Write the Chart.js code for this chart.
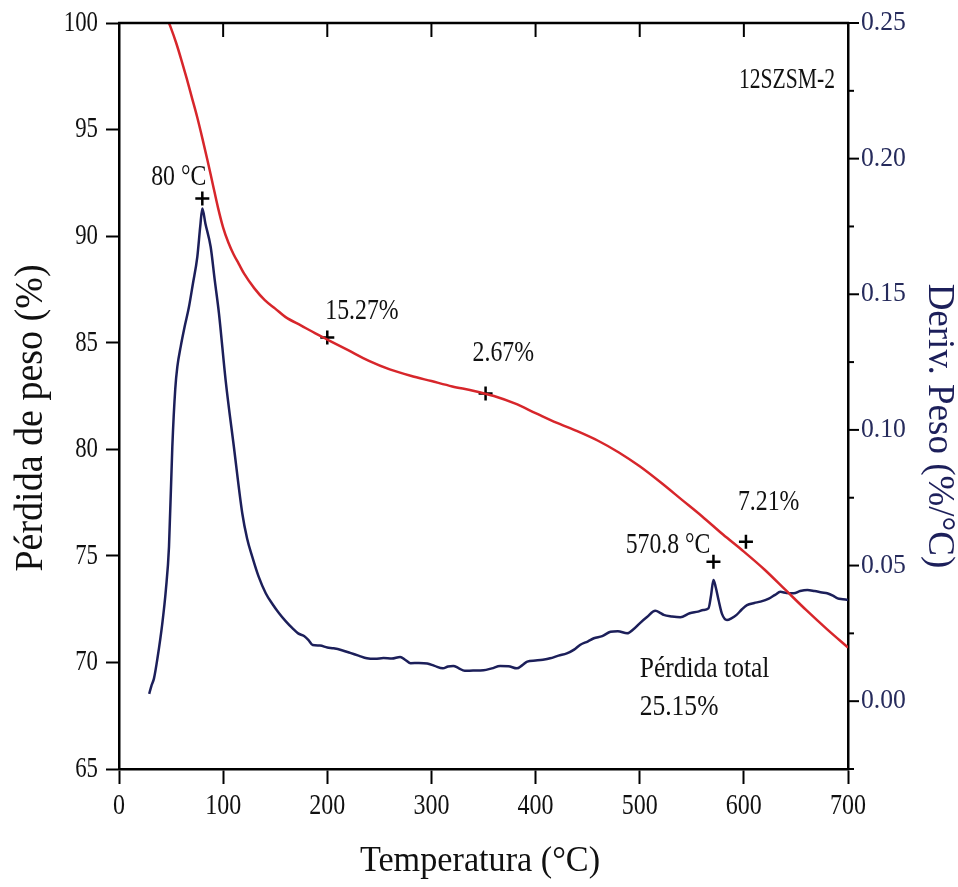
<!DOCTYPE html>
<html>
<head>
<meta charset="utf-8">
<script src="https://cdn.jsdelivr.net/npm/chart.js@4.4.1/dist/chart.umd.min.js"></script>
<style>
  html, body { margin: 0; padding: 0; background: #fff; }
  #wrap { width: 958px; height: 887px; }
</style>
</head>
<body>
<div id="wrap"><canvas id="c" width="958" height="887"></canvas></div>
<script>
// Thermogravimetric curve: temperature (°C) and residual mass (%)
const tgTemp = [45, 50, 55, 60, 65, 70, 75, 80, 85, 90, 95, 100, 105, 110, 115, 120, 130, 140, 150, 160, 175, 190, 200, 220, 240, 260, 280, 300, 320, 340, 360, 380, 400, 420, 440, 460, 480, 500, 520, 540, 560, 580, 600, 620, 640, 660, 680, 700];
const tgMass = [100.35, 99.75, 99.05, 98.25, 97.4, 96.5, 95.6, 94.6, 93.55, 92.45, 91.35, 90.4, 89.7, 89.15, 88.7, 88.25, 87.55, 87.0, 86.6, 86.2, 85.8, 85.4, 85.15, 84.65, 84.15, 83.75, 83.45, 83.2, 82.95, 82.75, 82.5, 82.15, 81.7, 81.25, 80.85, 80.4, 79.85, 79.2, 78.45, 77.65, 76.85, 76.0, 75.2, 74.35, 73.4, 72.45, 71.55, 70.7];

// Derivative curve: temperature (°C) and deriv. weight (%/°C)
const dtgTemp = [29, 31, 33.6, 37, 41.6, 45, 48, 51.2, 54, 56, 59.2, 63, 67.2, 71, 75.2, 78, 80, 83, 88, 92, 96, 102.4, 110.3, 118.4, 123, 128, 134, 140.9, 147, 153.7, 160, 166.5, 172, 177.7, 182, 186, 193, 200, 206, 214, 222, 230, 238, 246, 254, 262, 270, 275, 280, 288, 296, 303, 311, 316, 321, 326, 332, 340, 350, 358, 366, 374, 382, 387, 392, 400, 407, 414, 422, 430, 437, 443, 450, 456, 464, 472, 479, 488, 494, 500, 507, 515, 520, 523, 531, 539, 548, 556, 561, 566, 568.5, 570.8, 573, 575.7, 579, 583.8, 588, 593, 598, 603, 610, 616, 624, 630, 635, 641, 648, 654, 661, 668, 675, 680, 686, 690, 695, 700];
const dtgDeriv = [0.0027, 0.0055, 0.0084, 0.016, 0.0287, 0.041, 0.0569, 0.0938, 0.115, 0.1232, 0.1306, 0.138, 0.1454, 0.154, 0.1638, 0.175, 0.1816, 0.176, 0.1675, 0.155, 0.1429, 0.1183, 0.0938, 0.0692, 0.06, 0.0532, 0.046, 0.0398, 0.036, 0.0324, 0.0295, 0.0269, 0.025, 0.024, 0.0225, 0.0207, 0.0205, 0.0198, 0.0195, 0.0188, 0.0178, 0.0168, 0.0158, 0.0156, 0.0159, 0.0157, 0.0163, 0.0152, 0.014, 0.0141, 0.0139, 0.013, 0.0121, 0.0128, 0.013, 0.0122, 0.0112, 0.0113, 0.0114, 0.0121, 0.013, 0.0129, 0.0121, 0.0132, 0.0146, 0.015, 0.0153, 0.0158, 0.0168, 0.0176, 0.019, 0.0208, 0.022, 0.0232, 0.024, 0.0256, 0.0258, 0.025, 0.0265, 0.0287, 0.031, 0.0333, 0.0325, 0.0318, 0.0312, 0.0309, 0.0324, 0.033, 0.0336, 0.0342, 0.039, 0.0447, 0.042, 0.0373, 0.0322, 0.0299, 0.0305, 0.0318, 0.0338, 0.0354, 0.0362, 0.0367, 0.0378, 0.0392, 0.0403, 0.0399, 0.0398, 0.0406, 0.041, 0.0406, 0.0401, 0.0398, 0.0388, 0.0379, 0.0376, 0.0373];

// Mass-loss step markers on the TG curve
const stepTemp = [200, 352, 602];
const stepMass = [85.24, 82.62, 75.66];
const stepLabels = ['15.27%', '2.67%', '7.21%'];

// Peak markers on the derivative curve
const peakTemp = [80, 570.8];
const peakDeriv = [0.1853, 0.0514];
const peakLabels = ['80 °C', '570.8 °C'];

// Axis ticks
const xTicks = [0, 100, 200, 300, 400, 500, 600, 700];
const massTicks = [65, 70, 75, 80, 85, 90, 95, 100];
const derivTicks = [0.00, 0.05, 0.10, 0.15, 0.20, 0.25];
const derivMinorTicks = [-0.025, 0.025, 0.075, 0.125, 0.175, 0.225];

const sampleName = '12SZSM-2';
const totalLoss = ['Pérdida total', '25.15%'];
const totalLossPos = { t: 500, m: [69.65, 67.9] };

const SERIF = '"Liberation Serif", "Times New Roman", serif';
const NAVY = '#1c1f5a';
const RED = '#d7262b';

function text(ctx, str, x, y, size, opts = {}) {
  ctx.save();
  ctx.translate(x, y);
  if (opts.rot) ctx.rotate(opts.rot);
  ctx.scale(opts.sx || 1, 1);
  ctx.font = size + 'px ' + SERIF;
  ctx.fillStyle = opts.color || '#111';
  ctx.textAlign = opts.align || 'center';
  ctx.textBaseline = 'middle';
  ctx.fillText(str, 0, 0);
  ctx.restore();
}

const decorations = {
  id: 'decorations',
  afterDraw(chart) {
    const { ctx, chartArea: a, scales } = chart;
    const xs = scales.x, yl = scales.yL, yr = scales.yR;

    ctx.save();
    ctx.strokeStyle = '#000';
    ctx.lineCap = 'butt';
    // top frame line with inward ticks
    ctx.lineWidth = 2.5;
    ctx.beginPath();
    ctx.moveTo(a.left - 1, a.top);
    ctx.lineTo(a.right + 1, a.top);
    ctx.stroke();
    ctx.lineWidth = 2;
    xTicks.forEach(v => {
      const px = xs.getPixelForValue(v);
      ctx.beginPath();
      ctx.moveTo(px, a.top);
      ctx.lineTo(px, a.top + 14);
      ctx.stroke();
    });
    // right axis ticks, major and minor
    derivTicks.forEach(v => {
      const py = yr.getPixelForValue(v);
      ctx.beginPath();
      ctx.moveTo(a.right, py);
      ctx.lineTo(a.right + 11, py);
      ctx.stroke();
    });
    derivMinorTicks.forEach(v => {
      const py = yr.getPixelForValue(v);
      ctx.beginPath();
      ctx.moveTo(a.right, py);
      ctx.lineTo(a.right + 6, py);
      ctx.stroke();
    });
    ctx.restore();

    // tick labels
    xTicks.forEach(v => text(ctx, String(v), xs.getPixelForValue(v), 806, 30, { sx: 0.8 }));
    massTicks.forEach(v => text(ctx, String(v), 98, yl.getPixelForValue(v), 30, { sx: 0.76, align: 'right' }));
    derivTicks.forEach(v => text(ctx, v.toFixed(2), 861, yr.getPixelForValue(v), 27, { sx: 0.95, align: 'left', color: '#262b5c' }));

    // axis titles
    text(ctx, 'Temperatura (°C)', 480, 862, 36, { sx: 0.95 });
    text(ctx, 'Pérdida de peso (%)', 31, 418, 40, { sx: 0.95, rot: -Math.PI / 2 });
    text(ctx, 'Deriv. Peso (%/°C)', 939, 426, 37, { sx: 1, rot: Math.PI / 2, color: NAVY });

    // sample name
    text(ctx, sampleName, 787, 80, 30, { sx: 0.72 });

    // step labels above their markers
    const stepOff = [[-2, -26, 'left'], [-13, -40, 'left'], [-8, -39, 'left']];
    stepTemp.forEach((t, i) => {
      const px = xs.getPixelForValue(t), py = yl.getPixelForValue(stepMass[i]);
      const o = stepOff[i];
      text(ctx, stepLabels[i], px + o[0], py + o[1], 29, { sx: 0.82, align: o[2] });
    });
    // peak temperature labels
    const peakOff = [[4, -21, 'right'], [-3, -16, 'right']];
    peakTemp.forEach((t, i) => {
      const px = xs.getPixelForValue(t), py = yr.getPixelForValue(peakDeriv[i]);
      const o = peakOff[i];
      text(ctx, peakLabels[i], px + o[0], py + o[1], 29, { sx: 0.82, align: o[2] });
    });

    // total loss note
    const nx = xs.getPixelForValue(totalLossPos.t);
    totalLoss.forEach((s, i) => text(ctx, s, nx, yl.getPixelForValue(totalLossPos.m[i]), 29, { sx: 0.88, align: 'left' }));
  }
};

const axisGrid = { display: true, drawOnChartArea: false, drawTicks: true, tickWidth: 2, tickColor: '#000' };

new Chart(document.getElementById('c'), {
  type: 'line',
  data: {
    datasets: [
      {
        label: 'TG',
        data: tgTemp.map((t, i) => ({ x: t, y: tgMass[i] })),
        yAxisID: 'yL',
        borderColor: RED,
        borderWidth: 2.5,
        pointRadius: 0,
        cubicInterpolationMode: 'monotone',
        fill: false
      },
      {
        label: 'DTG',
        data: dtgTemp.map((t, i) => ({ x: t, y: dtgDeriv[i] })),
        yAxisID: 'yR',
        borderColor: NAVY,
        borderWidth: 2.5,
        pointRadius: 0,
        cubicInterpolationMode: 'monotone',
        fill: false
      },
      {
        label: 'steps',
        data: stepTemp.map((t, i) => ({ x: t, y: stepMass[i] })),
        yAxisID: 'yL',
        showLine: false,
        pointStyle: 'cross',
        pointRadius: 7,
        pointBorderWidth: 2.5,
        pointBorderColor: '#000',
        borderColor: '#000'
      },
      {
        label: 'peaks',
        data: peakTemp.map((t, i) => ({ x: t, y: peakDeriv[i] })),
        yAxisID: 'yR',
        showLine: false,
        pointStyle: 'cross',
        pointRadius: 7,
        pointBorderWidth: 2.5,
        pointBorderColor: '#000',
        borderColor: '#000'
      }
    ]
  },
  options: {
    responsive: false,
    animation: false,
    events: [],
    layout: { padding: { top: 23, left: 0, right: 0, bottom: 0 } },
    plugins: { legend: { display: false }, tooltip: { enabled: false } },
    scales: {
      x: {
        type: 'linear',
        position: 'bottom',
        min: 0, max: 700,
        afterBuildTicks: s => { s.ticks = xTicks.map(v => ({ value: v })); },
        ticks: { display: false },
        grid: Object.assign({}, axisGrid, { tickLength: 15 }),
        border: { display: true, color: '#000', width: 2.5 },
        afterFit: s => { s.height = 118; }
      },
      yL: {
        type: 'linear',
        position: 'left',
        min: 65, max: 100,
        afterBuildTicks: s => { s.ticks = massTicks.map(v => ({ value: v })); },
        ticks: { display: false },
        grid: Object.assign({}, axisGrid, { tickLength: 13 }),
        border: { display: true, color: '#000', width: 2.5 },
        afterFit: s => { s.width = 119; }
      },
      yR: {
        type: 'linear',
        position: 'right',
        min: -0.025, max: 0.25,
        ticks: { display: false },
        grid: { display: true, drawOnChartArea: false, drawTicks: false },
        border: { display: true, color: '#000', width: 2.5 },
        afterFit: s => { s.width = 110; }
      }
    }
  },
  plugins: [decorations]
});
</script>
</body>
</html>
